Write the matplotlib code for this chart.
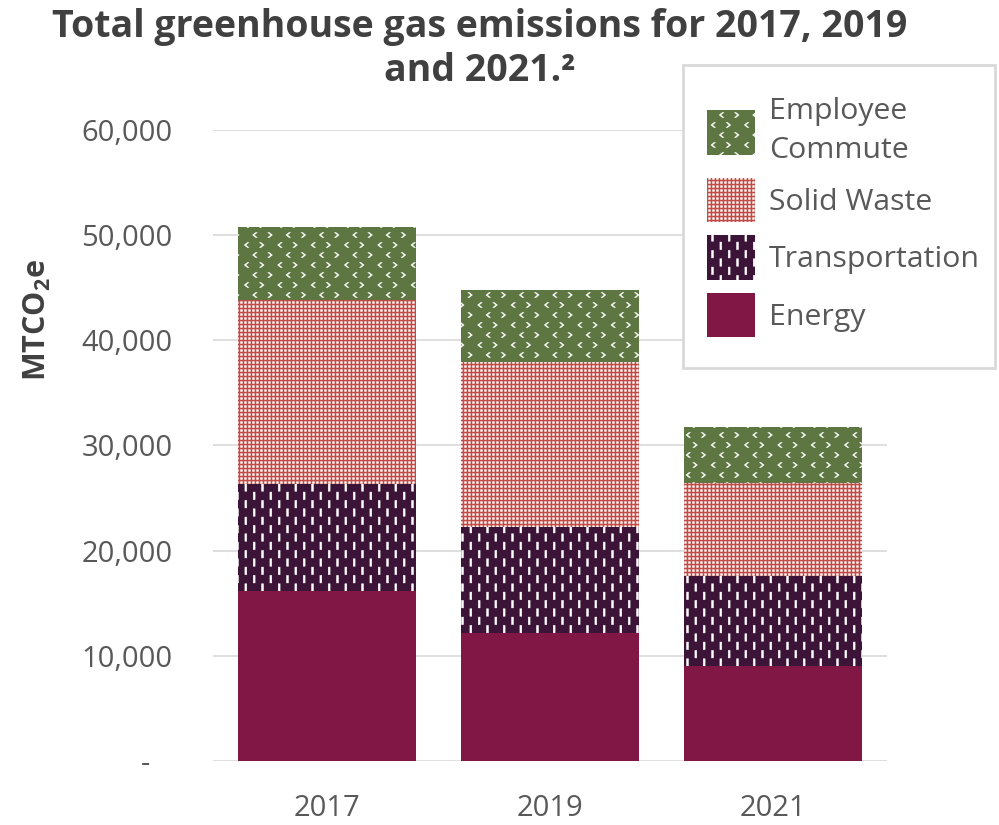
import warnings
warnings.filterwarnings('ignore')
import numpy as np
import matplotlib
matplotlib.use('Agg')
import matplotlib.pyplot as plt
from matplotlib.path import Path
import matplotlib.hatch as mhatch
from matplotlib.patches import Patch, Rectangle

# ---------------- data ----------------
years = ['2017', '2019', '2021']
energy = [16150, 12150, 9050]
transportation = [10200, 10100, 8550]
solid_waste = [17500, 15700, 8850]
employee_commute = [6950, 6850, 5350]
series_names = ['Energy', 'Transportation', 'Solid Waste', 'Employee\nCommute']
yticks = [0, 10000, 20000, 30000, 40000, 50000, 60000]
ytick_labels = ['-   ', '10,000', '20,000', '30,000', '40,000', '50,000', '60,000']
title = 'Total greenhouse gas emissions for 2017, 2019\nand 2021.\u00b2'
ylabel = 'MTCO$_2$e'

# ---------------- custom hatches ----------------
def _rect(x0, y0, w, h):
    return [(x0, y0), (x0 + w, y0), (x0 + w, y0 + h), (x0, y0 + h)]


class PolyHatch(mhatch.HatchPatternBase):
    char = None
    polys = []

    def __init__(self, hatch, density):
        active = hatch is not None and self.char in hatch
        self.num_vertices = sum(len(p) + 1 for p in self.polys) if active else 0

    def set_vertices_and_codes(self, vertices, codes):
        k = 0
        for p in self.polys:
            n = len(p)
            vertices[k:k + n] = p
            vertices[k + n] = p[0]
            codes[k] = Path.MOVETO
            codes[k + 1:k + n] = Path.LINETO
            codes[k + n] = Path.CLOSEPOLY
            k += n + 1


# short vertical dashes (Transportation)
_dash = []
_nx, _ny = 12, 6
for i in range(_nx):
    for j in range(_ny):
        xc = (i + 0.5) / _nx
        yc = (j + 0.25 + 0.5 * (i % 2)) / _ny
        _dash.append(_rect(xc - 0.009, yc - 0.037, 0.018, 0.074))


class DashHatch(PolyHatch):
    char = '!'
    polys = _dash


# small chevrons (Employee Commute)
_chev = []
_cx, _cy = 6, 10
a, b, t = 0.015, 0.024, 0.013
for j in range(_cy):
    for i in range(_cx):
        xc = (i + 0.25 + 0.5 * (j % 2)) / _cx
        yc = (j + 0.5) / _cy
        if (i + j) % 2 == 0:
            poly = [(xc - a, yc + b), (xc + a, yc), (xc - a, yc - b),
                    (xc - a - t, yc - b), (xc + a - t, yc), (xc - a - t, yc + b)]
        else:
            poly = [(xc + a, yc + b), (xc - a, yc), (xc + a, yc - b),
                    (xc + a + t, yc - b), (xc - a + t, yc), (xc + a + t, yc + b)]
        _chev.append(poly)


class ChevHatch(PolyHatch):
    char = '&'
    polys = _chev


# fine checker (Solid Waste)
_chk = []
_n = 25
for i in range(_n):
    for j in range(_n):
        _chk.append(_rect(i / _n + 0.006, j / _n + 0.006, 0.017, 0.017))


class CheckHatch(PolyHatch):
    char = '@'
    polys = _chk


mhatch._hatch_types.extend([DashHatch, ChevHatch, CheckHatch])
plt.rcParams['hatch.linewidth'] = 0.4

# ---------------- style ----------------
plt.rcParams['font.family'] = ['Open Sans', 'DejaVu Sans']
plt.rcParams['mathtext.default'] = 'regular'
tick_gray = '#595959'
dark = '#404040'
grid_gray = '#D9D9D9'

colors = ['#801745', '#3C1438', '#C44A45', '#5E7742']
hatches = [None, '!', '@', '&']

fig = plt.figure(figsize=(9.99, 8.25), dpi=100)
ax = fig.add_axes([213 / 999, 64 / 825, 674 / 999, 631 / 825])

x = np.arange(len(years))
series = [energy, transportation, solid_waste, employee_commute]
bottom = np.zeros(len(years))
handles = []
for vals, c, h, name in zip(series, colors, hatches, series_names):
    ax.bar(x, vals, 0.8, bottom=bottom, color=c, hatch=h,
           edgecolor='white', linewidth=0, zorder=3)
    bottom = bottom + np.array(vals)
    handles.append(Patch(facecolor=c, hatch=h, edgecolor='white', linewidth=0, label=name))

ax.set_ylim(0, 60000)
ax.set_xlim(-0.51, 2.51)
ax.set_yticks(yticks)
ax.set_yticklabels(ytick_labels)
ax.set_xticks(x)
ax.set_xticklabels(years)
ax.tick_params(axis='y', length=0, pad=29, labelsize=21, labelcolor=tick_gray)
ax.tick_params(axis='x', length=0, pad=24, labelsize=21, labelcolor=tick_gray)
for s in ax.spines.values():
    s.set_visible(False)
ax.yaxis.grid(True, color=grid_gray, linewidth=1.2, zorder=0)
ax.set_axisbelow(True)
ax.patch.set_alpha(0)

fig.text(37 / 999, 1 - 320 / 825, ylabel, rotation=90, ha='center', va='center',
         fontsize=22, fontweight='bold', color=dark)

fig.text(480 / 999, 1 - 49 / 825, title, ha='center', va='center',
         fontsize=27, fontweight='bold', color=dark, linespacing=1.2)

# legend frame
fig.patches.append(Rectangle((683 / 999, 1 - 368 / 825), 312 / 999, 303 / 825,
                             transform=fig.transFigure, facecolor='white',
                             edgecolor=grid_gray, linewidth=2, zorder=4))
leg = fig.legend(handles[::-1], [hh.get_label() for hh in handles[::-1]],
                 loc='upper left', bbox_to_anchor=(707 / 999, 1 - 97 / 825),
                 bbox_transform=fig.transFigure, frameon=False,
                 fontsize=21.8, labelcolor=tick_gray,
                 handlelength=1.6, handleheight=1.9, handletextpad=0.45,
                 labelspacing=0.42, borderpad=0, borderaxespad=0)
leg.set_zorder(5)
for txt in leg.get_texts():
    txt.set_linespacing(1.45)

fig.savefig('out.png', dpi=100)
